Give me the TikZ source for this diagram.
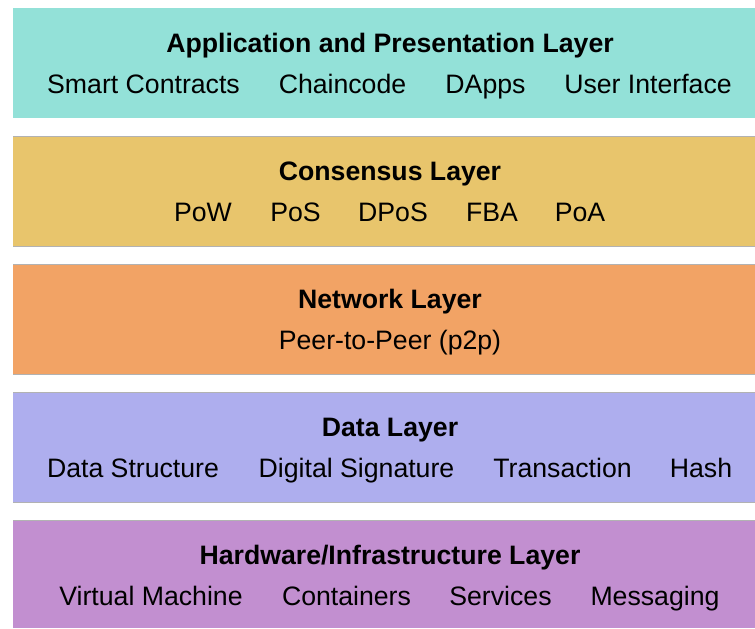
\documentclass[tikz,border=0pt]{standalone}
\usepackage{fontspec}
\setmainfont{Liberation Sans}
\definecolor{appC}{HTML}{93E1D8}
\definecolor{conC}{HTML}{E8C56C}
\definecolor{netC}{HTML}{F2A365}
\definecolor{datC}{HTML}{AEAEEE}
\definecolor{hwC}{HTML}{C28FD0}
\begin{document}
\begin{tikzpicture}[x=0.75pt,y=-0.75pt,
  band/.style={draw=none,rectangle,anchor=north west,inner sep=0pt,
    minimum width=556.5pt,minimum height=82.5pt},
  edge/.style={draw=black!30,line width=0.6pt},
  title/.style={anchor=base,inner sep=0pt,font=\fontsize{20}{24}\selectfont\bfseries},
  item/.style={anchor=base,inner sep=0pt,font=\fontsize{20}{24}\selectfont}]
\useasboundingbox (0,0) rectangle (755,628);
% layer bands
\node[band,fill=appC] (app) at (13,8) {};
\node[band,fill=conC] (con) at (13,136) {};
\node[band,fill=netC] (net) at (13,264) {};
\node[band,fill=datC] (dat) at (13,392) {};
\node[band,fill=hwC,minimum height=81pt] (hw) at (13,520) {};
\foreach \b in {con,net,dat,hw}{
  \draw[edge] (\b.north west) -- (\b.north east);}
\foreach \b in {con,net,dat}{
  \draw[edge] (\b.south west) -- (\b.south east);}
% application and presentation layer
\node[title] (appT) at (390,52) {Application and Presentation Layer};
\node[item] (sc) at (143.5,93) {Smart Contracts};
\node[item] (cc) at (342.5,93) {Chaincode};
\node[item] (da) at (485.5,93) {DApps};
\node[item] (ui) at (648,93) {User Interface};
% consensus layer
\node[title] (conT) at (390,180) {Consensus Layer};
\node[item] (pow) at (203,221) {PoW};
\node[item] (pos) at (295.5,221) {PoS};
\node[item] (dpos) at (393,221) {DPoS};
\node[item] (fba) at (492,221) {FBA};
\node[item] (poa) at (580,221) {PoA};
% network layer
\node[title] (netT) at (390,308) {Network Layer};
\node[item] (p2p) at (390,349) {Peer-to-Peer (p2p)};
% data layer
\node[title] (datT) at (390,436) {Data Layer};
\node[item] (ds) at (133,477) {Data Structure};
\node[item] (sig) at (356.5,477) {Digital Signature};
\node[item] (tx) at (562.5,477) {Transaction};
\node[item] (hash) at (701,477) {Hash};
% hardware / infrastructure layer
\node[title] (hwT) at (390,564) {Hardware/Infrastructure Layer};
\node[item] (vm) at (151,605) {Virtual Machine};
\node[item] (ct) at (346.5,605) {Containers};
\node[item] (sv) at (500.5,605) {Services};
\node[item] (msg) at (655,605) {Messaging};
\end{tikzpicture}
\end{document}
